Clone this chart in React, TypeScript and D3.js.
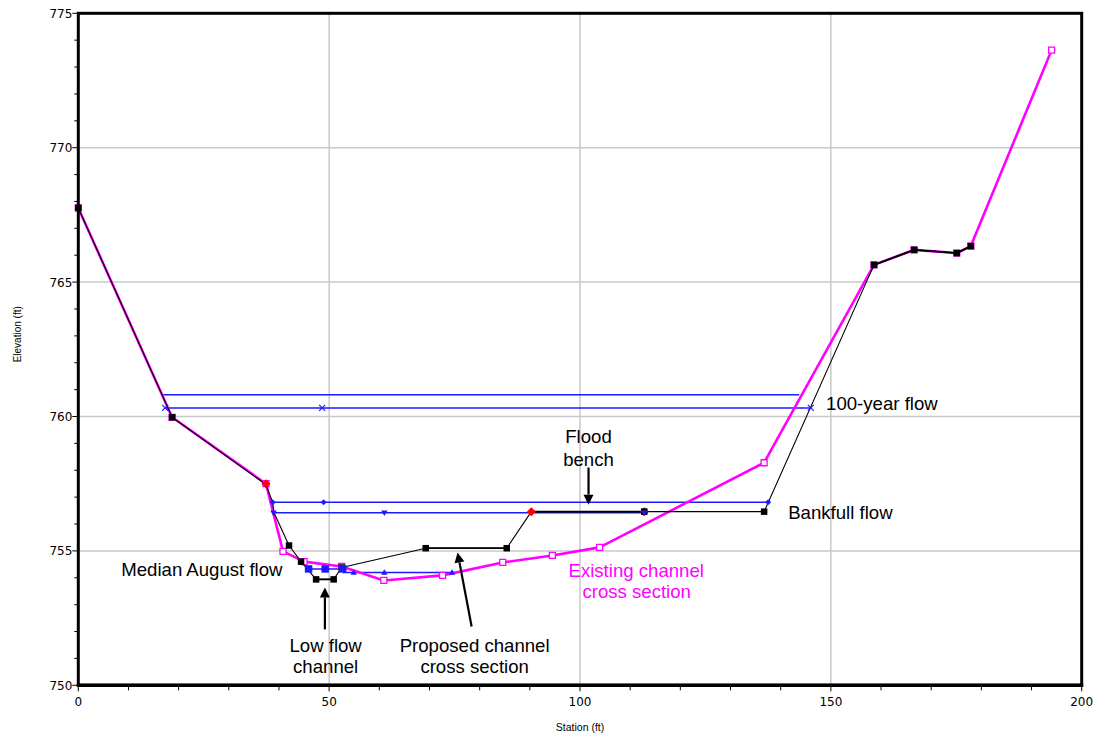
import React from "react";
import * as d3 from "d3";

// ---------- DATA ----------
const proposedStation = [0, 18.7, 37.4, 38.75, 39.0, 42.0, 44.4, 47.4, 50.9, 52.5, 69.25, 85.4, 90.3, 112.8, 136.7, 158.6, 166.6, 175.1, 177.9];
const proposedElev = [767.76, 759.97, 757.47, 756.8, 756.43, 755.2, 754.6, 753.94, 753.94, 754.38, 755.1, 755.1, 756.46, 756.46, 756.46, 765.64, 766.2, 766.08, 766.34];

const existingStation = [0, 18.7, 37.4, 40.8, 45.0, 52.5, 60.9, 72.6, 84.6, 94.5, 103.9, 136.7, 158.6, 166.6, 175.1, 177.9, 194.0];
const existingElev = [767.76, 759.97, 757.5, 754.98, 754.6, 754.42, 753.9, 754.09, 754.57, 754.83, 755.13, 758.28, 765.64, 766.2, 766.08, 766.34, 773.63];

const bankStation = [37.4, 90.3, 112.8];
const bankElev = [757.5, 756.46, 756.46];

// water surfaces: stations (ends / markers), elevation
const ws100ExistingStation = [16.65, 143.7];
const ws100ExistingElev = 760.81;
const ws100ProposedStation = [17.3, 48.6, 146.0];
const ws100ProposedElev = 760.32;
const bankfullProposedStation = [38.75, 48.9, 137.5];
const bankfullProposedElev = 756.81;
const bankfullExistingStation = [38.9, 61.0, 112.8];
const bankfullExistingElev = 756.42;
const augustProposedStation = [45.9, 49.2, 52.7];
const augustProposedElev = 754.33;
const augustExistingStation = [52.7, 54.9, 61.0, 74.5];
const augustExistingElev = 754.2;

const xTicks = [0, 50, 100, 150, 200];
const yTicks = [750, 755, 760, 765, 770, 775];

// annotations (data units)
const labels = [
  { text: "100-year flow", x: 149.05, y: 760.23, anchor: "start", color: "#000" },
  { text: "Flood", x: 101.7, y: 759.0, anchor: "middle", color: "#000" },
  { text: "bench", x: 101.7, y: 758.17, anchor: "middle", color: "#000" },
  { text: "Bankfull flow", x: 141.5, y: 756.18, anchor: "start", color: "#000" },
  { text: "Median August flow", x: 8.56, y: 754.07, anchor: "start", color: "#000" },
  { text: "Existing channel", x: 111.2, y: 754.03, anchor: "middle", color: "#ff00ff" },
  { text: "cross section", x: 111.3, y: 753.25, anchor: "middle", color: "#ff00ff" },
  { text: "Low flow", x: 49.3, y: 751.25, anchor: "middle", color: "#000" },
  { text: "channel", x: 49.3, y: 750.47, anchor: "middle", color: "#000" },
  { text: "Proposed channel", x: 79.0, y: 751.25, anchor: "middle", color: "#000" },
  { text: "cross section", x: 79.0, y: 750.47, anchor: "middle", color: "#000" },
];
const arrows = [
  { x1: 101.7, y1: 758.1, x2: 101.7, y2: 756.72 },
  { x1: 49.15, y1: 752.08, x2: 49.15, y2: 753.64 },
  { x1: 78.4, y1: 752.19, x2: 75.6, y2: 754.94 },
];

// ---------- LAYOUT ----------
const W = 1097, H = 738;
const L = 78.3, R = 1081.7, T = 13.3, B = 685.3;
const BLUE = "#1a1aff";
const MAG = "#ff00ff";

export default function App() {
  const x = d3.scaleLinear().domain([0, 200]).range([L, R]);
  const y = d3.scaleLinear().domain([750, 775]).range([B, T]);

  const line = d3.line<[number, number]>().x(d => x(d[0])).y(d => y(d[1]));
  const existingPts: [number, number][] = existingStation.map((s, i) => [s, existingElev[i]]);
  const proposedPts: [number, number][] = proposedStation.map((s, i) => [s, proposedElev[i]]);

  const thickSeg = [[7, 8], [10, 11], [12, 13], [15, 16], [16, 17], [17, 18]];
  const noBlackMarker = new Set([2, 3, 4, 12]);

  const minorX = d3.range(0, 201, 10);
  const minorY = d3.range(750, 776, 1);

  const sq = (cx: number, cy: number, s: number) => `M${cx - s / 2},${cy - s / 2}h${s}v${s}h${-s}Z`;
  const diamond = (cx: number, cy: number, s: number) => `M${cx},${cy - s}L${cx + s},${cy}L${cx},${cy + s}L${cx - s},${cy}Z`;
  const triDown = (cx: number, cy: number, s: number) => `M${cx - s},${cy - s * 0.7}L${cx + s},${cy - s * 0.7}L${cx},${cy + s}Z`;
  const triUp = (cx: number, cy: number, s: number) => `M${cx - s},${cy + s * 0.7}L${cx + s},${cy + s * 0.7}L${cx},${cy - s}Z`;

  const font = "'Liberation Sans', Arial, sans-serif";

  const arrowEls = arrows.map((a, i) => {
    const X1 = x(a.x1), Y1 = y(a.y1), X2 = x(a.x2), Y2 = y(a.y2);
    const ang = Math.atan2(Y2 - Y1, X2 - X1);
    const hl = 10, hw = 5;
    const bx = X2 - hl * Math.cos(ang), by = Y2 - hl * Math.sin(ang);
    const px = -Math.sin(ang) * hw, py = Math.cos(ang) * hw;
    return (
      <g key={"a" + i}>
        <line x1={X1} y1={Y1} x2={bx} y2={by} stroke="#000" strokeWidth={2.2} />
        <path d={`M${X2},${Y2}L${bx + px},${by + py}L${bx - px},${by - py}Z`} fill="#000" />
      </g>
    );
  });

  return (
    <svg width={W} height={H} style={{ position: "absolute", left: 0, top: 0, background: "#fff" }}>
      <rect x={0} y={0} width={W} height={H} fill="#fff" />
      {/* grid */}
      {xTicks.filter(t => t > 0 && t < 200).map(t => (
        <line key={"gx" + t} x1={x(t)} x2={x(t)} y1={T} y2={B} stroke="#c8c8c8" strokeWidth={1.5} />
      ))}
      {yTicks.filter(t => t > 750 && t < 775).map(t => (
        <line key={"gy" + t} x1={L} x2={R} y1={y(t)} y2={y(t)} stroke="#c8c8c8" strokeWidth={1.5} />
      ))}

      {/* water surfaces */}
      <line x1={x(ws100ExistingStation[0])} x2={x(ws100ExistingStation[1])} y1={y(ws100ExistingElev)} y2={y(ws100ExistingElev)} stroke={BLUE} strokeWidth={1.5} />
      <line x1={x(ws100ProposedStation[0])} x2={x(ws100ProposedStation[ws100ProposedStation.length - 1])} y1={y(ws100ProposedElev)} y2={y(ws100ProposedElev)} stroke={BLUE} strokeWidth={1.5} />
      <line x1={x(bankfullProposedStation[0])} x2={x(bankfullProposedStation[bankfullProposedStation.length - 1])} y1={y(bankfullProposedElev)} y2={y(bankfullProposedElev)} stroke={BLUE} strokeWidth={1.5} />
      <line x1={x(bankfullExistingStation[0])} x2={x(bankfullExistingStation[bankfullExistingStation.length - 1])} y1={y(bankfullExistingElev)} y2={y(bankfullExistingElev)} stroke={BLUE} strokeWidth={1.5} />
      <line x1={x(augustProposedStation[0])} x2={x(augustProposedStation[augustProposedStation.length - 1])} y1={y(augustProposedElev)} y2={y(augustProposedElev)} stroke={BLUE} strokeWidth={1.5} />
      <line x1={x(augustExistingStation[0])} x2={x(augustExistingStation[augustExistingStation.length - 1])} y1={y(augustExistingElev)} y2={y(augustExistingElev)} stroke={BLUE} strokeWidth={1.5} />

      {/* existing ground */}
      <path d={line(existingPts) || ""} fill="none" stroke={MAG} strokeWidth={2.6} strokeLinejoin="round" />
      {existingPts.map((p, i) => (
        <path key={"em" + i} d={sq(x(p[0]), y(p[1]), 6)} fill="#fff" stroke={MAG} strokeWidth={1.3} />
      ))}

      {/* proposed ground */}
      <path d={line(proposedPts) || ""} fill="none" stroke="#000" strokeWidth={1.1} strokeLinejoin="round" />
      {thickSeg.map(([a, b], i) => (
        <line key={"ts" + i} x1={x(proposedStation[a])} y1={y(proposedElev[a])} x2={x(proposedStation[b])} y2={y(proposedElev[b])} stroke="#000" strokeWidth={1.8} />
      ))}
      {proposedPts.map((p, i) => noBlackMarker.has(i) ? null : (
        <path key={"pm" + i} d={sq(x(p[0]), y(p[1]), 6.5)} fill="#000" />
      ))}

      {/* bank stations */}
      {bankStation.map((s, i) => (
        <path key={"bk" + i} d={diamond(x(s), y(bankElev[i]), 4.5)} fill={i === 2 ? "#c00000" : "#ff0000"} />
      ))}
      <path d={sq(x(proposedStation[13]), y(proposedElev[13]), 6)} fill="#000" />

      {/* ws markers */}
      {ws100ProposedStation.map((s, i) => {
        const cx = x(s), cy = y(ws100ProposedElev);
        return <path key={"wx" + i} d={`M${cx - 3},${cy - 3}L${cx + 3},${cy + 3}M${cx - 3},${cy + 3}L${cx + 3},${cy - 3}`} stroke={BLUE} strokeWidth={1.2} />;
      })}
      {bankfullProposedStation.map((s, i) => (
        <path key={"bp" + i} d={diamond(x(s), y(bankfullProposedElev), 3)} fill={BLUE} />
      ))}
      {bankfullExistingStation.map((s, i) => (
        <path key={"be" + i} d={triDown(x(s), y(bankfullExistingElev), 3.2)} fill={BLUE} />
      ))}
      {augustProposedStation.map((s, i) => (
        <path key={"ap" + i} d={sq(x(s), y(augustProposedElev), 7.5)} fill={BLUE} />
      ))}
      {augustExistingStation.slice(1).map((s, i) => (
        <path key={"ae" + i} d={triUp(x(s), y(augustExistingElev), 3.2)} fill={BLUE} />
      ))}

      {/* frame */}
      <rect x={L} y={T} width={R - L} height={B - T} fill="none" stroke="#000" strokeWidth={3} />
      <line x1={L - 1.5} x2={R + 1.5} y1={B} y2={B} stroke="#000" strokeWidth={3.5} />

      {/* ticks */}
      {minorX.map(t => (
        <line key={"tx" + t} x1={x(t)} x2={x(t)} y1={B} y2={B + (t % 50 === 0 ? 6 : 5)} stroke="#000" strokeWidth={1} />
      ))}
      {minorY.map(t => (
        <line key={"ty" + t} x1={L - (t % 5 === 0 ? 6 : 4)} x2={L} y1={y(t)} y2={y(t)} stroke="#000" strokeWidth={1} />
      ))}
      {xTicks.map(t => (
        <text key={"lx" + t} x={x(t)} y={B + 21} textAnchor="middle" fontFamily="'DejaVu Sans', sans-serif" fontSize={12} fill="#000">{t}</text>
      ))}
      {yTicks.map(t => (
        <text key={"ly" + t} x={L - 6} y={y(t) + 4.5} textAnchor="end" fontFamily="'DejaVu Sans', sans-serif" fontSize={12} fill="#000">{t}</text>
      ))}

      {/* axis titles */}
      <text x={(L + R) / 2} y={731} textAnchor="middle" fontFamily={font} fontSize={10.5} fill="#000">Station (ft)</text>
      <text transform={`translate(21,${(T + B) / 2 - 15}) rotate(-90)`} textAnchor="middle" fontFamily={font} fontSize={10} fill="#000">Elevation (ft)</text>

      {/* annotations */}
      {labels.map((lb, i) => (
        <text key={"t" + i} x={x(lb.x)} y={y(lb.y)} textAnchor={lb.anchor as any} fontFamily={font} fontSize={18.6} fill={lb.color}>{lb.text}</text>
      ))}
      {arrowEls}
    </svg>
  );
}
